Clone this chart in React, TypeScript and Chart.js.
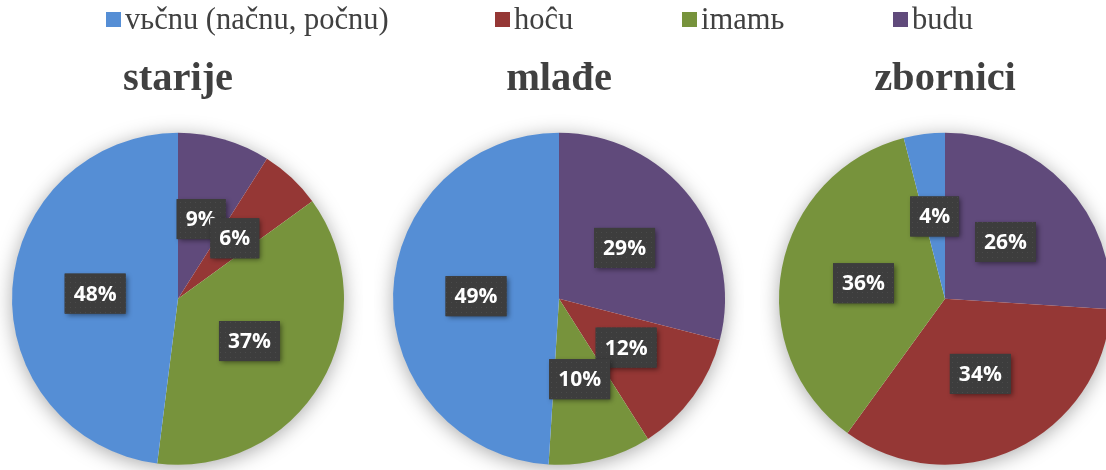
import React, { useEffect, useRef } from "react";
import { Chart, registerables } from "chart.js";

Chart.register(...registerables);

// ---- data ----
const categories = ["vьčnu (načnu, počnu)", "hoĉu", "imamь", "budu"];
const colors = ["#558ED5", "#953735", "#77933C", "#604A7B"];
const titles = ["starije", "mlađe", "zbornici"];
const starijeValues = [48, 6, 37, 9];
const mladeValues = [49, 12, 10, 29];
const zborniciValues = [4, 34, 36, 26];
// slices are drawn clockwise from 12 o'clock in this category order
const drawOrder = [3, 1, 2, 0];

const seriesList = [starijeValues, mladeValues, zborniciValues];
const canvasLefts = [-7, 374, 760];
const legendLefts = [106, 495, 682, 893];

const CW = 370;
const CH = 470;

let dotPattern: CanvasPattern | null = null;
function getPattern(ctx: CanvasRenderingContext2D) {
  if (dotPattern) return dotPattern;
  const c = document.createElement("canvas");
  c.width = 5;
  c.height = 5;
  const p = c.getContext("2d")!;
  p.fillStyle = "#3d3d3d";
  p.fillRect(0, 0, 5, 5);
  p.fillStyle = "#4a4a4a";
  p.fillRect(2, 2, 1, 1);
  dotPattern = ctx.createPattern(c, "repeat");
  return dotPattern;
}

const shadowPlugin = {
  id: "pieShadow",
  beforeDatasetsDraw(chart: any) {
    const meta = chart.getDatasetMeta(0);
    const arc = meta.data[0];
    if (!arc) return;
    const { x, y, outerRadius } = arc.getProps(["x", "y", "outerRadius"], true);
    const ctx = chart.ctx;
    ctx.save();
    ctx.shadowColor = "rgba(0,0,0,0.35)";
    ctx.shadowBlur = 20;
    ctx.shadowOffsetX = 0;
    ctx.shadowOffsetY = 3;
    ctx.beginPath();
    ctx.arc(x, y, outerRadius - 0.5, 0, Math.PI * 2);
    ctx.fillStyle = "#ffffff";
    ctx.fill();
    ctx.restore();
  },
};

const labelPlugin = {
  id: "boxLabels",
  afterDatasetsDraw(chart: any) {
    const ctx: CanvasRenderingContext2D = chart.ctx;
    const meta = chart.getDatasetMeta(0);
    const data = chart.data.datasets[0].data as number[];
    ctx.save();
    ctx.font = 'bold 21px "Open Sans"';
    meta.data.forEach((arc: any, i: number) => {
      const pos = arc.tooltipPosition(true);
      const text = `${data[i]}%`;
      const tw = ctx.measureText(text).width;
      const w = tw + 18;
      const h = 40;
      const bx = pos.x - w / 2;
      const by = pos.y - h / 2;
      ctx.save();
      ctx.shadowColor = "rgba(0,0,0,0.45)";
      ctx.shadowBlur = 5;
      ctx.shadowOffsetX = 2;
      ctx.shadowOffsetY = 2;
      ctx.fillStyle = "#3d3d3d";
      ctx.fillRect(bx, by, w, h);
      ctx.restore();
      const pat = getPattern(ctx);
      if (pat) {
        ctx.fillStyle = pat;
        ctx.fillRect(bx, by, w, h);
      }
      ctx.fillStyle = "#ffffff";
      ctx.textAlign = "center";
      ctx.textBaseline = "middle";
      ctx.fillText(text, pos.x, pos.y + 1);
    });
    ctx.restore();
  },
};

function PieCanvas({ index }: { index: number }) {
  const ref = useRef<HTMLCanvasElement | null>(null);
  useEffect(() => {
    if (!ref.current) return;
    const values = seriesList[index];
    const chart = new Chart(ref.current, {
      type: "pie",
      data: {
        labels: drawOrder.map((k) => categories[k]),
        datasets: [
          {
            data: drawOrder.map((k) => values[k]),
            backgroundColor: drawOrder.map((k) => colors[k]),
            borderWidth: 0,
            radius: 166,
          } as any,
        ],
      },
      options: {
        responsive: false,
        animation: false,
        layout: { padding: { top: 0, bottom: 5, left: 0, right: 0 } },
        plugins: {
          legend: { display: false },
          tooltip: { enabled: false },
          title: {
            display: true,
            text: titles[index],
            color: "#404040",
            font: { family: '"Liberation Serif", serif', size: 40.5, weight: "bold", lineHeight: 1.2 },
            padding: { top: 55, bottom: 29 },
          },
        },
      },
      plugins: [shadowPlugin, labelPlugin],
    });
    return () => chart.destroy();
  }, [index]);
  return (
    <canvas
      ref={ref}
      width={CW}
      height={CH}
      style={{ position: "absolute", left: canvasLefts[index], top: 0, width: CW, height: CH }}
    />
  );
}

export default function App() {
  return (
    <div
      style={{
        position: "fixed",
        left: 0,
        top: 0,
        width: 1106,
        height: 470,
        overflow: "hidden",
        background: "#ffffff",
      }}
    >
      {[0, 1, 2].map((i) => (
        <PieCanvas key={i} index={i} />
      ))}
      {categories.map((c, i) => (
        <React.Fragment key={c}>
          <div
            style={{
              position: "absolute",
              left: legendLefts[i],
              top: 12,
              width: 15,
              height: 15,
              background: colors[i],
            }}
          />
          <span
            style={{
              position: "absolute",
              left: legendLefts[i] + 19,
              top: 4,
              fontFamily: '"Liberation Serif", serif',
              fontSize: 30.5,
              lineHeight: "30px",
              color: "#404040",
              whiteSpace: "nowrap",
            }}
          >
            {c}
          </span>
        </React.Fragment>
      ))}
    </div>
  );
}
